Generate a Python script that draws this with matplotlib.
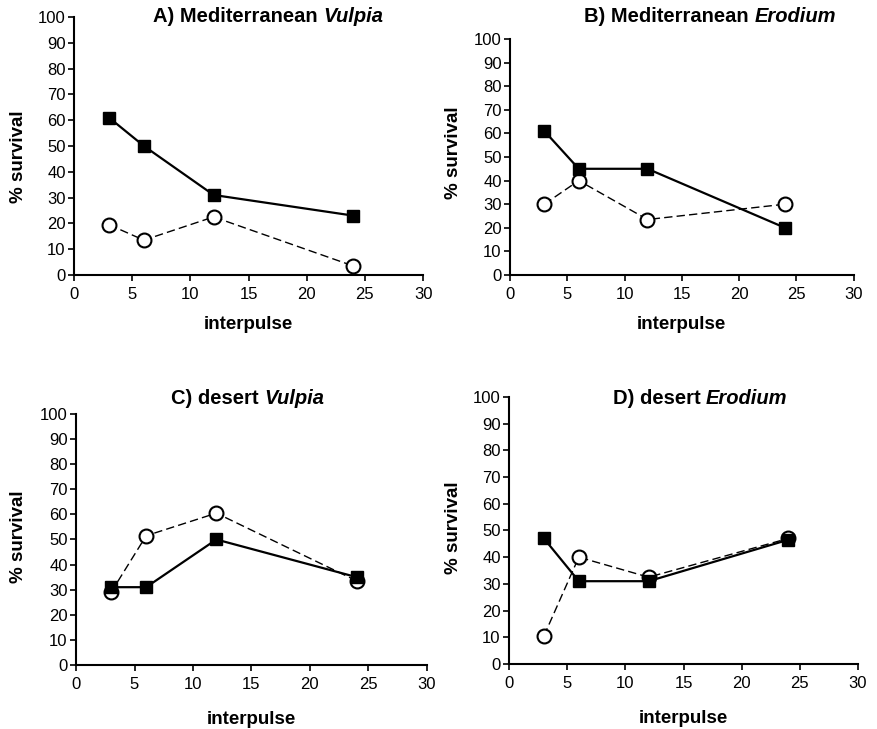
import matplotlib
matplotlib.use("Agg")
import matplotlib.pyplot as plt

plt.rcParams["font.family"] = ["Liberation Sans", "DejaVu Sans"]

# data
interpulse = [3, 6, 12, 24]

med_vulpia_filled = [61, 50, 31, 23]
med_vulpia_open = [19.5, 13.5, 22.5, 3.5]

med_erodium_filled = [61, 45, 45, 20]
med_erodium_open = [30, 40, 23.5, 30]

des_vulpia_filled = [31, 31, 50, 35]
des_vulpia_open = [29, 51.5, 60.5, 33.5]

des_erodium_filled = [47, 31, 31, 46.5]
des_erodium_open = [10.5, 40, 32.5, 47]

titles = [("A) Mediterranean ", "Vulpia"), ("B) Mediterranean ", "Erodium"),
          ("C) desert ", "Vulpia"), ("D) desert ", "Erodium")]

panels = [
    (med_vulpia_filled, med_vulpia_open),
    (med_erodium_filled, med_erodium_open),
    (des_vulpia_filled, des_vulpia_open),
    (des_erodium_filled, des_erodium_open),
]

# axes boxes [left, bottom, width, height] in figure fractions
boxes = [
    [0.0844, 0.6228, 0.398, 0.354],
    [0.5815, 0.6228, 0.392, 0.3237],
    [0.0867, 0.0878, 0.400, 0.3443],
    [0.5804, 0.0892, 0.398, 0.3663],
]
# title centre (x px, y px) in the 877x729 picture
title_pos = [(268, 17), (710, 17), (248, 398), (700, 398)]
# y label anchor (x px of right side of rotated text, y px centre), x label pad
ylab_pos = [(27, 157), (462, 153), (27, 537), (462, 528)]
xlab_pad = [10, 10, 13, 13]

W, H = 877, 729
fig = plt.figure(figsize=(W / 100, H / 100), dpi=100)
renderer = fig.canvas.get_renderer()

for i, (box, (filled, opened)) in enumerate(zip(boxes, panels)):
    ax = fig.add_axes(box)
    ax.plot(interpulse, opened, linestyle=(0, (6, 3)), color="black", linewidth=1.0,
            marker="o", markersize=10, markerfacecolor="white",
            markeredgecolor="black", markeredgewidth=1.5, zorder=2, clip_on=False)
    ax.plot(interpulse, filled, linestyle="-", color="black", linewidth=1.6,
            marker="s", markersize=8.5, markerfacecolor="black",
            markeredgecolor="black", zorder=3, clip_on=False)
    ax.set_xlim(0, 30)
    ax.set_ylim(0, 100)
    ax.set_xticks(range(0, 31, 5))
    ax.set_yticks(range(0, 101, 10))
    ax.spines["top"].set_visible(False)
    ax.spines["right"].set_visible(False)
    ax.spines["left"].set_linewidth(1.5)
    ax.spines["bottom"].set_linewidth(1.5)
    ax.tick_params(direction="out", length=4, width=1.2, labelsize=12)
    ax.tick_params(axis="x", pad=5)
    ax.tick_params(axis="y", pad=2)
    ax.set_ylabel("% survival", fontsize=13.5, fontweight="bold")
    ax.yaxis.set_label_coords(ylab_pos[i][0] / W, 1 - ylab_pos[i][1] / H,
                              transform=fig.transFigure)
    ax.set_xlabel("interpulse", fontsize=13.5, fontweight="bold", labelpad=xlab_pad[i])

    # title: bold with the genus in bold italic
    t1, t2 = titles[i]
    tx, ty = title_pos[i]
    fx, fy = tx / W, 1 - ty / H
    a = fig.text(0, fy, t1, fontsize=14.5, fontweight="bold", va="center", ha="left")
    b = fig.text(0, fy, t2, fontsize=14.5, fontweight="bold", style="italic",
                 va="center", ha="left")
    wa = a.get_window_extent(renderer).width / fig.bbox.width
    wb = b.get_window_extent(renderer).width / fig.bbox.width
    x0 = fx - (wa + wb) / 2
    a.set_x(x0)
    b.set_x(x0 + wa)

fig.savefig("out.png", dpi=100)
